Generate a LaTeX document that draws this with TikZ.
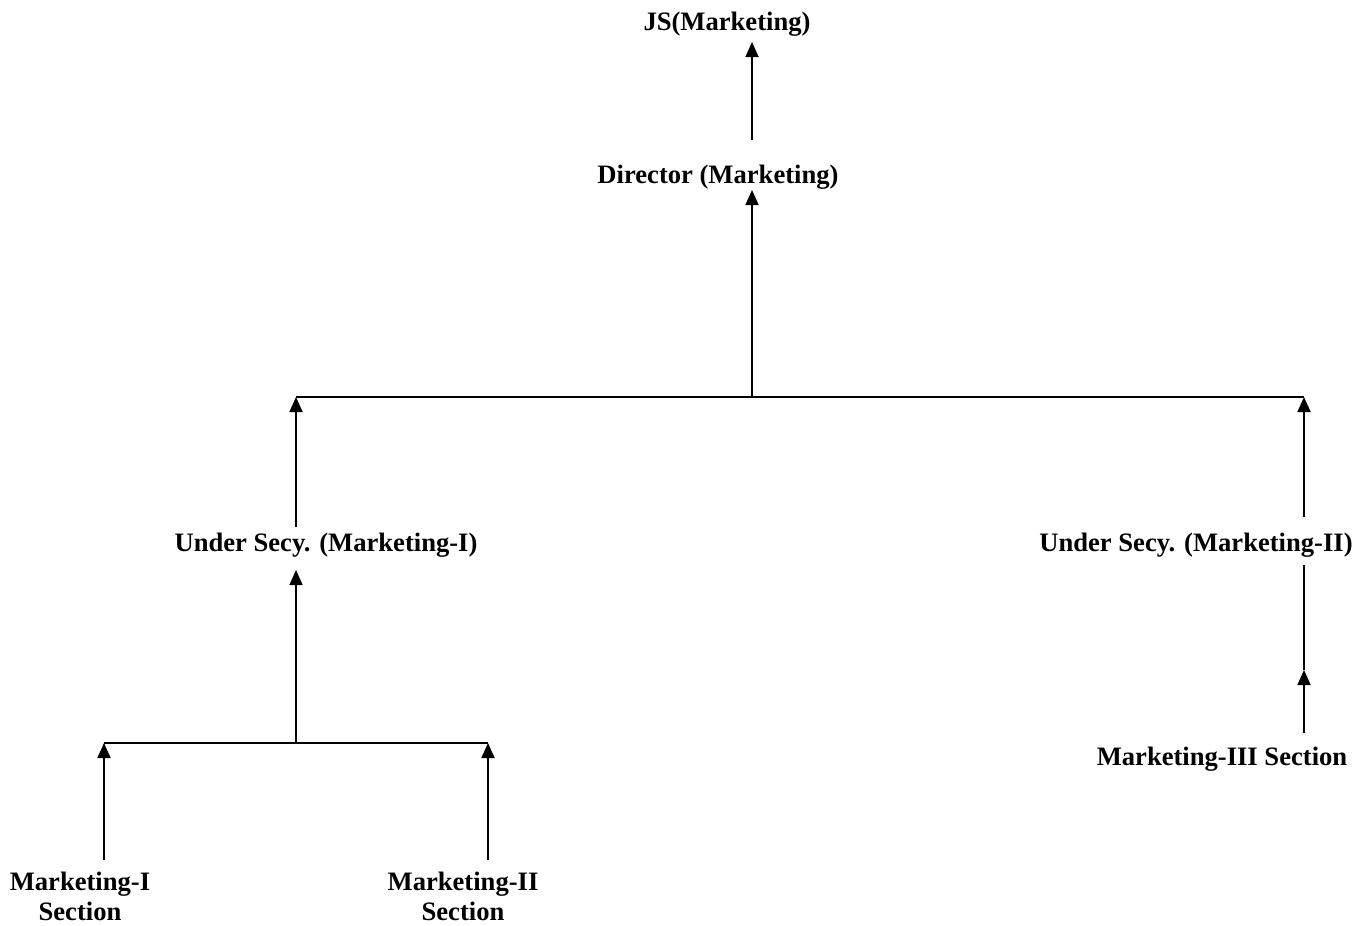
\documentclass[tikz,border=0pt]{standalone}
\usepackage{fontspec}
\setmainfont{Liberation Serif}
\usetikzlibrary{arrows.meta}

\begin{document}
\begin{tikzpicture}[x=0.5pt, y=-0.5pt, every node/.style={font=\fontsize{13.3}{15}\selectfont\bfseries, inner sep=0pt, align=center},
  up/.style={-{Triangle[length=7.5pt,width=6.5pt]}, line width=0.9pt}, bus/.style={line width=0.9pt}]
\useasboundingbox (0,0) rectangle (1371,926);
% labels
\node (js) at (727,24) {JS(Marketing)};
\node (dir) at (718,177) {Director (Marketing)};
\node (usone) at (326,545) {Under Secy. (Marketing-I)};
\node (ustwo) at (1196,545) {Under Secy. (Marketing-II)};
\node (mone) at (80,896) {Marketing-I\\Section};
\node (mtwo) at (463,896) {Marketing-II\\Section};
\node (mthree) at (1222,759) {Marketing-III Section};
% arrow ends
\coordinate (jsin) at (752,42);  \coordinate (dirout) at (752,140);
\coordinate (dirin) at (752,190); \coordinate (busmid) at (752,397);
\coordinate (busl) at (296,397); \coordinate (busr) at (1304,397);
\coordinate (usoneout) at (296,527); \coordinate (ustwoout) at (1304,517);
\coordinate (usonein) at (296,570); \coordinate (lowmid) at (296,743);
\coordinate (lowl) at (104,743); \coordinate (lowr) at (488,743);
\coordinate (moneout) at (104,860); \coordinate (mtwoout) at (488,860);
\coordinate (ustwoin) at (1304,565); \coordinate (midr) at (1304,670);
\coordinate (mthreeout) at (1304,733);
% connectors
\draw[up] (dirout) -- (jsin);
\draw[up] (busmid) -- (dirin);
\draw[bus] (busl) -- (busr);
\draw[up] (usoneout) -- (busl);
\draw[up] (ustwoout) -- (busr);
\draw[up] (lowmid) -- (usonein);
\draw[bus] (lowl) -- (lowr);
\foreach \a/\b in {moneout/lowl, mtwoout/lowr} \draw[up] (\a) -- (\b);
\draw[bus] (ustwoin) -- (midr);
\draw[up] (mthreeout) -- (midr);
\end{tikzpicture}
\end{document}
